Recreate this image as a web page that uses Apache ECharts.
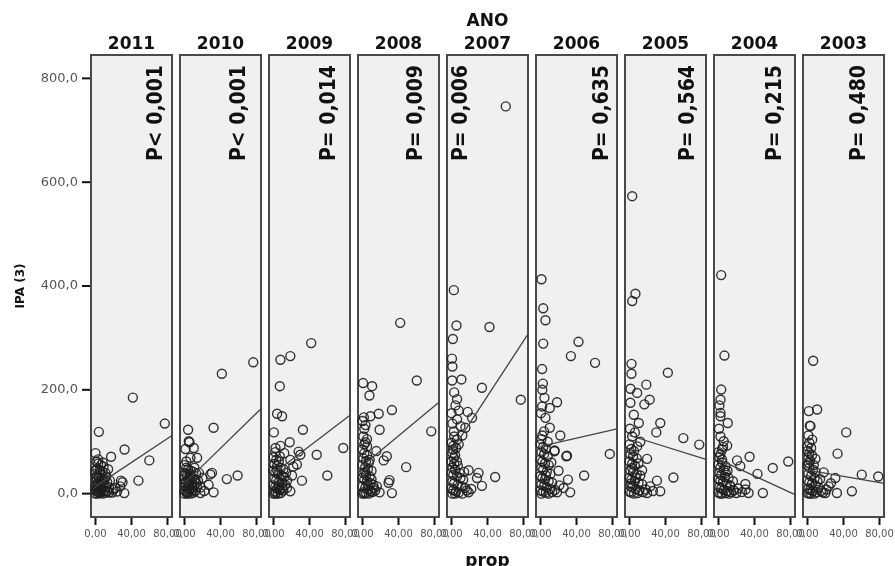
<!DOCTYPE html>
<html>
<head>
<meta charset="utf-8">
<script src="https://cdn.jsdelivr.net/npm/echarts@6/dist/echarts.min.js"></script>
<style>
html,body{margin:0;padding:0;background:#fff;}
#chart{width:895px;height:566px;}
</style>
</head>
<body>
<div id="chart"></div>
<script>
// ---------------- DATA ----------------
const years = ['2011','2010','2009','2008','2007','2006','2005','2004','2003'];
const pLabels = ['P< 0,001','P< 0,001','P= 0,014','P= 0,009','P= 0,006','P= 0,635','P= 0,564','P= 0,215','P= 0,480'];
const yTicks = [0, 200, 400, 600, 800];
const xTicks = [0, 40, 80];
// fitted regression line per panel (IPA = intercept + slope * prop)
const fitIntercept = [14, 19.8, 39, 53.6, 82, 90.9, 112, 66, 45.5];
const fitSlope = [1.153, 1.69, 1.32, 1.44, 2.65, 0.398, -0.543, -0.80, -0.304];

const pts2011 = [[41.5,185],[77,135],[3.7,119],[32.3,85],[59.8,64],[47.7,25],[0,78],[17.3,71],[28.3,25],[32,1],[18.4,2],[27.5,14],[22,11],[30,22],
 [1,62],[3,58],[6,55],[9,52],[2,48],[5,45],[8,42],[11,40],[14,47],[0,38],[2,35],[4,32],[7,30],[10,28],[12,33],[1,25],[3,22],[6,20],[9,18],[12,15],[15,12],[0,15],[2,12],[4,10],[7,8],[10,6],[13,4],[1,5],[3,3],[5,1],[8,0],[11,2],[0,0],[2,0],[4,2],[6,5],[0,8],[1,30],[5,38],[3,66],[8,60],[16,25],[20,8],[15,2],[24,4],[6,14],[9,24],[2,18],[0,45],[13,22]];
const pts2010 = [[41.5,231],[76.4,253],[4,123],[32.3,127],[4.8,101],[1.1,86],[10.3,88],[5.5,99],[6.6,69],[14,69],[30.5,40],[47,28],[59,35],[32.3,2.5],[17.6,1],[26.8,17],[28.7,37],[20,30],
 [0,55],[2,50],[4,47],[7,44],[10,42],[13,38],[1,40],[3,36],[6,33],[9,30],[12,28],[15,25],[0,28],[2,24],[5,21],[8,19],[11,16],[14,13],[1,14],[3,11],[6,9],[9,7],[12,5],[0,6],[2,3],[4,1],[7,0],[10,2],[0,0],[3,0],[5,4],[8,12],[1,20],[4,27],[6,38],[11,50],[18,12],[22,5],[16,40],[2,62],[0,35],[7,25],[13,20],[5,15]];
const pts2009 = [[7.7,258],[18.7,265],[41.9,290],[7,207],[4,154],[9.5,149],[0.4,118],[32.7,123],[18,99],[77.5,88],[48,75],[27.9,81],[29.8,75],[26,56],[59.8,35],[31.6,25],[20.6,35],[7.7,92],[2.2,88],[18.7,65],[18.7,4.5],[15,11],[12,78],[22,52],
 [0,70],[3,65],[6,62],[1,57],[4,53],[8,50],[11,47],[0,44],[2,41],[5,38],[9,35],[12,32],[1,29],[3,26],[6,23],[10,20],[13,17],[0,16],[2,13],[4,10],[7,8],[11,6],[1,4],[3,2],[5,0],[8,1],[0,0],[2,0],[6,14],[9,27],[4,45],[14,40],[7,72],[2,80],[10,10],[15,25]];
const pts2008 = [[41.9,329],[60.3,218],[0.7,213],[10.7,207],[7.7,189],[18,154],[32.7,161],[1.5,147],[8.8,149],[3.3,132],[19,123],[76.4,120],[3.3,99],[5.1,91],[15.4,82],[27,72],[23.5,64],[48.5,51],[30,26],[29,21],[32.7,1],[19,2.5],[12.5,11],[0,140],[2,125],[1,110],
 [0,85],[2,78],[5,74],[1,68],[4,63],[7,60],[0,55],[3,51],[6,47],[10,44],[1,40],[4,36],[8,33],[0,30],[2,27],[5,24],[9,20],[12,17],[0,14],[3,11],[6,8],[9,5],[1,3],[4,1],[7,0],[0,0],[2,0],[11,3],[14,6],[6,18],[3,42],[8,65],[2,95],[5,105],[10,28],[16,14]];
const pts2007 = [[2.6,392],[5.5,324],[42.2,321],[1.5,298],[0.7,218],[11,220],[33.8,204],[77,181],[6.2,182],[4.4,170],[18,157.5],[22.8,146],[6.2,143],[15.4,127],[2.6,120],[6.2,104],[1.8,85],[2.6,69],[19,45],[30,40],[48.5,32],[33.8,15],[19,2.5],[28.3,30],[60.3,746],[0.5,260],[1,245],[3,195],[8,160],[10,130],[12,112],[0,155],[1,135],
 [0,98],[2,92],[5,88],[1,78],[4,74],[0,62],[3,58],[7,54],[1,50],[4,46],[0,40],[2,36],[6,33],[10,30],[13,27],[1,24],[3,20],[7,17],[11,14],[15,11],[0,10],[2,7],[5,4],[8,2],[12,0],[1,0],[4,0],[17,6],[22,9],[9,40],[6,62],[14,42],[3,110],[8,95]];
const pts2006 = [[1.1,413],[3,357],[5.5,334],[3,289],[42.2,292.5],[33.8,265],[60.6,252],[1.8,240],[2.6,212],[4.4,184.5],[18.4,176],[1.8,168],[10.3,165],[5.5,146],[10.3,127],[22,112],[15.4,81.6],[29.4,73],[77,76.5],[20,44],[48.5,35],[30.5,27],[33,2.5],[18.4,2.5],[25.7,11],[28.7,72],[15.8,83],[2,200],[0.5,155],[4,120],[1,105],
 [0,95],[3,90],[6,86],[1,80],[4,76],[8,72],[0,66],[2,62],[5,58],[9,55],[1,50],[3,46],[7,42],[11,38],[0,34],[2,30],[5,27],[9,24],[13,21],[1,18],[4,15],[7,12],[11,9],[0,6],[3,4],[6,2],[9,0],[1,0],[13,3],[16,7],[21,16],[6,35],[12,60],[2,112],[8,100]];
const pts2005 = [[3,573],[6.6,385],[3,371],[2.2,250],[2.2,231],[42.6,233],[18.7,210],[1.1,202],[8.5,194],[22.4,181],[16.5,172],[4.8,152],[10.3,136],[34.2,136],[29.8,118],[59.8,107],[77.5,94.5],[3,110],[19.5,67],[48.8,31],[30.5,25],[34.2,4.5],[19.5,1.3],[3,49.5],[8.5,91],[1,175],[0.5,125],[6,118],[12,100],
 [0,95],[2,86],[5,82],[1,76],[4,72],[8,68],[0,62],[3,58],[6,54],[1,45],[4,41],[8,38],[12,35],[0,30],[2,27],[6,24],[10,21],[14,18],[1,15],[3,12],[7,9],[11,6],[0,4],[2,2],[5,0],[9,1],[15,3],[18,8],[23,14],[26,5],[14,45],[7,30],[2,20],[10,58]];
const pts2004 = [[3,421],[6.6,266],[3,200.5],[2.2,181],[2.2,155.6],[10.3,136],[2.2,149],[2.2,110],[5.8,101],[9.6,92.5],[34.5,71],[20.6,64],[24.2,53],[77.5,62],[60.3,49.5],[43.3,38],[29.8,18.7],[33.4,1.3],[49.3,1.3],[19.8,1.3],[11.3,30],[4,65.5],[7.7,53],[13.2,14],[1,170],[0.5,125],[4,85],[30,8],[26,3],
 [0,80],[2,76],[1,70],[4,60],[0,56],[2,50],[6,46],[10,44],[1,40],[3,36],[7,32],[0,28],[2,25],[5,22],[9,19],[13,16],[1,13],[3,10],[6,7],[10,5],[14,3],[0,2],[2,0],[4,0],[8,1],[12,0],[17,6],[22,10],[16,24],[8,40],[5,90]];
const pts2003 = [[6.3,256],[10.7,162],[1.5,159],[2.6,131],[43,118],[5.2,104],[33.4,77],[0,91],[8.8,67],[60.3,36.6],[78.6,33],[18,41],[30.9,30],[49.3,4.5],[32.7,1.3],[19.8,1.3],[23.5,14],[1.5,59],[3.3,130],[1,112],[2,98],[14,28],[26,20],
 [0,82],[2,78],[5,74],[1,70],[3,64],[0,55],[2,50],[6,46],[9,42],[1,38],[4,34],[8,30],[0,26],[2,22],[5,19],[9,16],[12,12],[1,10],[3,7],[6,5],[10,3],[0,1],[2,0],[4,0],[8,0],[15,5],[17,2],[21,8],[11,24],[7,55],[4,88]];
const panelPoints = [pts2011, pts2010, pts2009, pts2008, pts2007, pts2006, pts2005, pts2004, pts2003];

// ---------------- LAYOUT ----------------
const X_MIN = -5, X_MAX = 85, Y_MIN = -45, Y_MAX = 845;
const GRID_LEFT0 = 91, GRID_STEP = 89, GRID_W = 81, GRID_TOP = 55, GRID_H = 462;
const pOffsets = [66, 60, 61, 59, 15, 67, 64, 62, 57];
const titleFont = '"DejaVu Sans", "Liberation Sans", Arial, sans-serif';
const TICK_COLOR = '#111';

const grids = [], xAxes = [], yAxes = [], series = [], graphics = [];
years.forEach((yr, i) => {
  const left = GRID_LEFT0 + i * GRID_STEP;
  grids.push({left: left, top: GRID_TOP, width: GRID_W, height: GRID_H, show: true,
    backgroundColor: '#f0f0f0', borderColor: '#4a4a4a', borderWidth: 2,
    containLabel: false, outerBoundsMode: 'none'});
  xAxes.push({
    type: 'value', gridIndex: i, min: X_MIN, max: X_MAX, position: 'bottom',
    splitLine: {show: false},
    axisLine: {show: true, onZero: false, lineStyle: {color: '#4a4a4a', width: 2}},
    axisTick: {show: false},
    axisLabel: {show: true, customValues: xTicks, margin: 12, fontSize: 10, color: '#555', fontFamily: titleFont,
      formatter: v => v.toFixed(2).replace('.', ',')},
    name: i === 4 ? 'prop' : '', nameLocation: 'middle', nameGap: 36,
    nameTextStyle: {fontSize: 17, fontWeight: 'bold', color: '#111', fontFamily: titleFont}
  });
  yAxes.push({
    type: 'value', gridIndex: i, min: Y_MIN, max: Y_MAX, position: 'left',
    splitLine: {show: false},
    axisLine: {show: true, onZero: false, lineStyle: {color: '#4a4a4a', width: 2}},
    axisTick: {show: false},
    axisLabel: {show: i === 0, customValues: yTicks, margin: 13, fontSize: 13, color: '#555', fontFamily: titleFont,
      formatter: v => v.toFixed(1).replace('.', ',')},
    name: i === 0 ? 'IPA (3)' : '', nameLocation: 'middle', nameGap: 64, nameRotate: 90,
    nameTextStyle: {fontSize: 12, fontWeight: 'bold', color: '#111', fontFamily: titleFont}
  });
  series.push({
    type: 'scatter', xAxisIndex: i, yAxisIndex: i, data: panelPoints[i],
    symbol: 'circle', symbolSize: 9, silent: true,
    itemStyle: {color: 'rgba(0,0,0,0)', borderColor: '#1e1e1e', borderWidth: 1.4, opacity: 0.9}
  });
  const b = fitIntercept[i], m = fitSlope[i];
  series.push({
    type: 'line', xAxisIndex: i, yAxisIndex: i, silent: true, symbol: 'none',
    data: [[0, b], [X_MAX, b + m * X_MAX]],
    lineStyle: {color: '#444', width: 1.3}, z: 3
  });
  graphics.push({type: 'text', x: left + GRID_W / 2, y: 45,
    style: {text: yr, font: 'bold 17px ' + titleFont, fill: '#111', textAlign: 'center', textVerticalAlign: 'middle'}});
  graphics.push({type: 'text', x: left + pOffsets[i], y: 65, rotation: Math.PI / 2,
    style: {text: pLabels[i], font: 'bold 21px "DejaVu Sans Condensed", "DejaVu Sans", sans-serif', fill: '#111',
      textAlign: 'right', textVerticalAlign: 'middle'}, z: 10});
});
graphics.push({type: 'text', x: GRID_LEFT0 + 4 * GRID_STEP + GRID_W / 2, y: 22,
  style: {text: 'ANO', font: 'bold 17px ' + titleFont, fill: '#111', textAlign: 'center', textVerticalAlign: 'middle'}});

const chart = echarts.init(document.getElementById('chart'), null, {renderer: 'canvas'});
chart.setOption({
  animation: false,
  backgroundColor: '#ffffff',
  grid: grids, xAxis: xAxes, yAxis: yAxes, series: series, graphic: graphics
});

// Tick marks as small rectangles: positions obtained from each panel's own axis scale
const tickGraphics = [];
years.forEach((yr, i) => {
  xTicks.forEach(v => {
    const p = chart.convertToPixel({gridIndex: i}, [v, Y_MIN]);
    tickGraphics.push({type: 'rect', z: 100, silent: true,
      shape: {x: p[0] - 1, y: p[1] + 1, width: 2, height: 7},
      style: {fill: TICK_COLOR}});
  });
});
yTicks.forEach(v => {
  const p = chart.convertToPixel({gridIndex: 0}, [X_MIN, v]);
  tickGraphics.push({type: 'rect', z: 100, silent: true,
    shape: {x: p[0] - 9, y: p[1] - 1, width: 8, height: 2},
    style: {fill: TICK_COLOR}});
});
chart.setOption({graphic: {elements: graphics.concat(tickGraphics)}});
</script>
</body>
</html>
